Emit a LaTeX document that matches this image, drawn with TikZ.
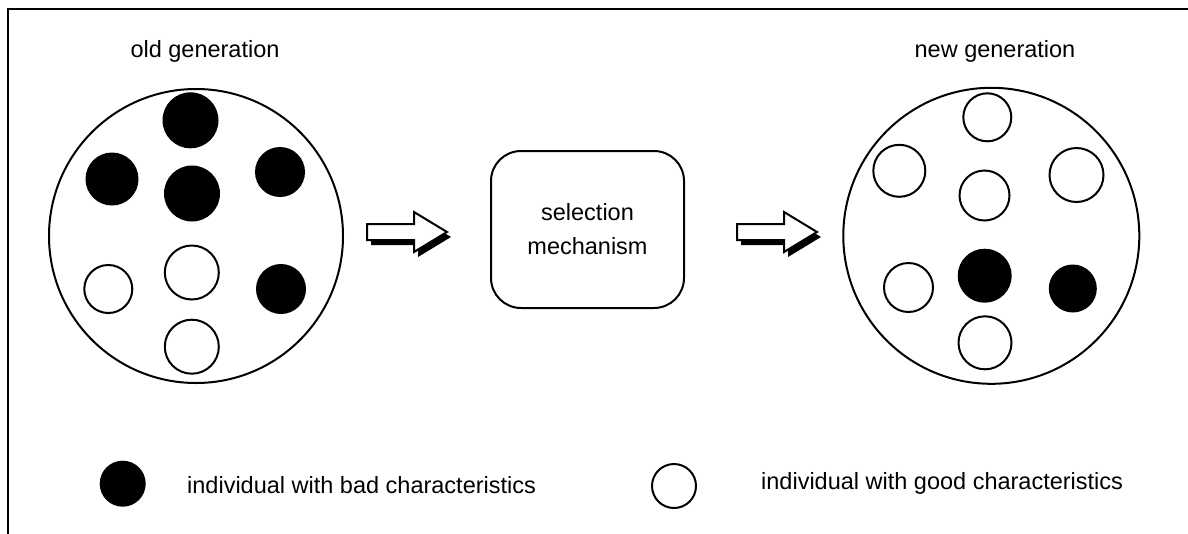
\documentclass[tikz,border=0pt]{standalone}
\usepackage{fontspec}
\setmainfont{Liberation Sans}
\begin{document}
\begin{tikzpicture}[x=1pt,y=-1pt,
  lbl/.style={inner sep=0pt,font=\fontsize{23.5}{34}\selectfont},
  bad/.style={circle,fill=black,inner sep=0pt,minimum size=#1},
  good/.style={circle,draw=black,line width=2pt,fill=white,inner sep=0pt,minimum size=#1},
  pop/.style={circle,draw=black,line width=2pt,inner sep=0pt,minimum size=#1},
  frameline/.style={line width=2pt},
  selbox/.style={draw=black,line width=2pt,rounded corners=30pt,minimum width=193pt,minimum height=157pt,align=center,font=\fontsize{23.5}{34}\selectfont},
  blockarrow/.pic={
    \fill[black,shift={(4,5)}] (0,-8) -- (47,-8) -- (47,-20) -- (80,0) -- (47,20) -- (47,8) -- (0,8) -- cycle;
    \filldraw[fill=white,draw=black,line width=2pt,line join=miter] (0,-8) -- (47,-8) -- (47,-20) -- (80,0) -- (47,20) -- (47,8) -- (0,8) -- cycle;
  }]
\useasboundingbox (0,0) rectangle (1188,533);
% frame
\coordinate (fb) at (8,534);
\coordinate (fc) at (8,9);
\coordinate (fr) at (1189,9);
\draw[frameline] (fb) -- (fc) -- (fr);

% titles
\node[lbl,anchor=base] (oldt) at (205,57) {old generation};
\node[lbl,anchor=base] (newt) at (995,57) {new generation};

% old population
\node[pop=294pt] (oldp) at (196,236) {};
\node[bad=56pt]  (o1) at (190.5,120.3) {};
\node[bad=53pt]  (o2) at (112,179) {};
\node[bad=56pt]  (o3) at (192,193.5) {};
\node[bad=50pt]  (o4) at (280,172) {};
\node[good=48pt] (o5) at (108.3,289) {};
\node[good=54pt] (o6) at (191.8,272.5) {};
\node[bad=50pt]  (o7) at (281,289) {};
\node[good=54pt] (o8) at (191.8,346.7) {};

% selection mechanism
\node[selbox] (sel) at (587.5,229.5) {selection\\mechanism};

% arrows
\pic at (367,232) {blockarrow};
\pic at (737,232) {blockarrow};

% new population
\node[pop=296pt] (newp) at (991.3,235.8) {};
\node[good=48pt] (n1) at (987.3,117.3) {};
\node[good=52pt] (n2) at (899.3,170.8) {};
\node[good=50pt] (n3) at (984.5,195.5) {};
\node[good=54pt] (n4) at (1076.5,175) {};
\node[good=49pt] (n5) at (908.5,287.5) {};
\node[bad=54pt]  (n6) at (984.7,275.7) {};
\node[bad=48pt]  (n7) at (1072.8,288.5) {};
\node[good=53pt] (n8) at (985,342.8) {};

% legend
\node[bad=46pt]  (lb) at (122.7,483.7) {};
\node[lbl,anchor=base west] (lbt) at (187,493) {individual with bad characteristics};
\node[good=44pt] (lg) at (674,486) {};
\node[lbl,anchor=base west] (lgt) at (761,489) {individual with good characteristics};
\end{tikzpicture}
\end{document}
